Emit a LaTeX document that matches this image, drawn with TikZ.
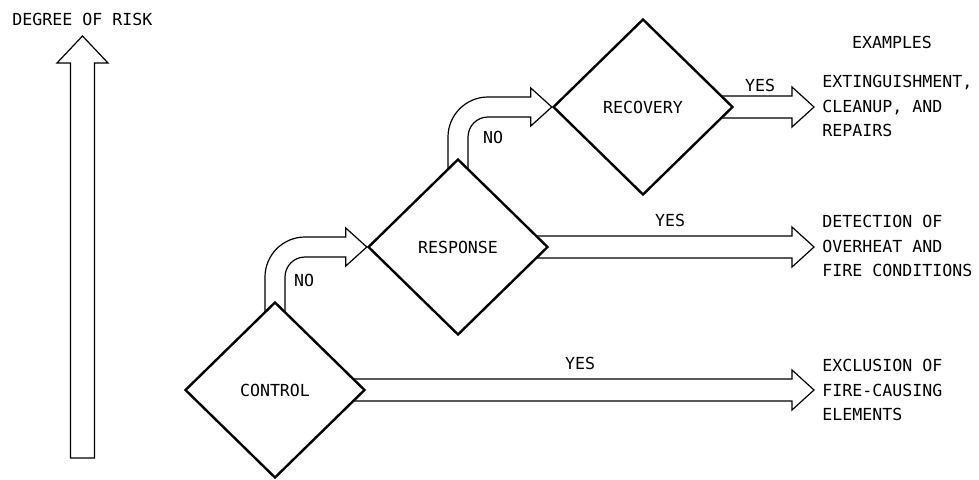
\documentclass[tikz,border=0pt]{standalone}
\usepackage{fontspec}
\newfontfamily\plotfont{DejaVu Sans Mono}
\usetikzlibrary{shapes.geometric,calc,backgrounds}
\begin{document}
\begin{tikzpicture}[x=0.5pt,y=0.5pt,line join=miter]
	\tikzset{every node/.style={font=\plotfont\fontsize{8.3}{12.25}\selectfont,inner sep=0pt}}
	\tikzset{decision/.style={diamond,draw,line width=1.2pt,fill=white,minimum width=90pt,minimum height=88pt,inner sep=0pt}}
	\tikzset{hollow/.style={draw,line width=0.6pt,fill=white}}
	\useasboundingbox (0,0) rectangle (979,479);
	% risk scale
	\node[anchor=west] (risk) at (12,460) {DEGREE OF RISK};
	\coordinate (riskfoot) at (82.5,21);
	\coordinate (risktip) at (82.5,443);
	\draw[hollow] ($(riskfoot)+(-12,0)$) -- ($(risktip)+(-12,-27)$) -- ($(risktip)+(-25.5,-27)$) -- (risktip) -- ($(risktip)+(25.5,-27)$) -- ($(risktip)+(12,-27)$) -- ($(riskfoot)+(12,0)$) -- cycle;
	% decisions
	\node[decision] (ctrl) at (275,89) {CONTROL};
	\node[decision] (resp) at (458,232) {RESPONSE};
	\node[decision] (recov) at (643,372) {RECOVERY};
	% examples
	\node (exhead) at (892,437) {EXAMPLES};
	\node[anchor=west,align=left] (ex1) at (822,373) {EXTINGUISHMENT,\\CLEANUP, AND\\REPAIRS};
	\node[anchor=west,align=left] (ex2) at (822,233) {DETECTION OF\\OVERHEAT AND\\FIRE CONDITIONS};
	\node[anchor=west,align=left] (ex3) at (822,89) {EXCLUSION OF\\FIRE-CAUSING\\ELEMENTS};
	\foreach \d/\e in {ctrl/ex3,resp/ex2,recov/ex1}
		\coordinate (tip-\d) at ($(\d.center -| \e.west)+(-8,0)$);
	% labels
	\node (yes1) at (580,116) {YES};
	\node (yes2) at (670,259) {YES};
	\node (yes3) at (760,394) {YES};
	\node (no1) at (304,199) {NO};
	\node (no2) at (493,342) {NO};
	\begin{pgfonlayer}{background}
		\foreach \d in {ctrl,resp,recov}
		\draw[hollow] ($(\d.center)+(0,11)$) -- ($(tip-\d)+(-22,11)$) -- ($(tip-\d)+(-22,20)$) -- (tip-\d) -- ($(tip-\d)+(-22,-20)$) -- ($(tip-\d)+(-22,-11)$) -- ($(\d.center)+(0,-11)$) -- cycle;
		\foreach \a/\t in {ctrl/resp,resp/recov}
		\draw[hollow] ($(\a.center)+(-10,0)$) -- ($(\a.center |- \t.west)+(-10,-30)$) arc[start angle=180,end angle=90,radius=20pt] -- ($(\t.west)+(-21,10)$) -- ($(\t.west)+(-21,19)$) -- (\t.west) -- ($(\t.west)+(-21,-19)$) -- ($(\t.west)+(-21,-10)$) -- ($(\a.center |- \t.west)+(30,-10)$) arc[start angle=90,end angle=180,radius=10pt] -- ($(\a.center)+(10,0)$) -- cycle;
	\end{pgfonlayer}
\end{tikzpicture}
\end{document}
